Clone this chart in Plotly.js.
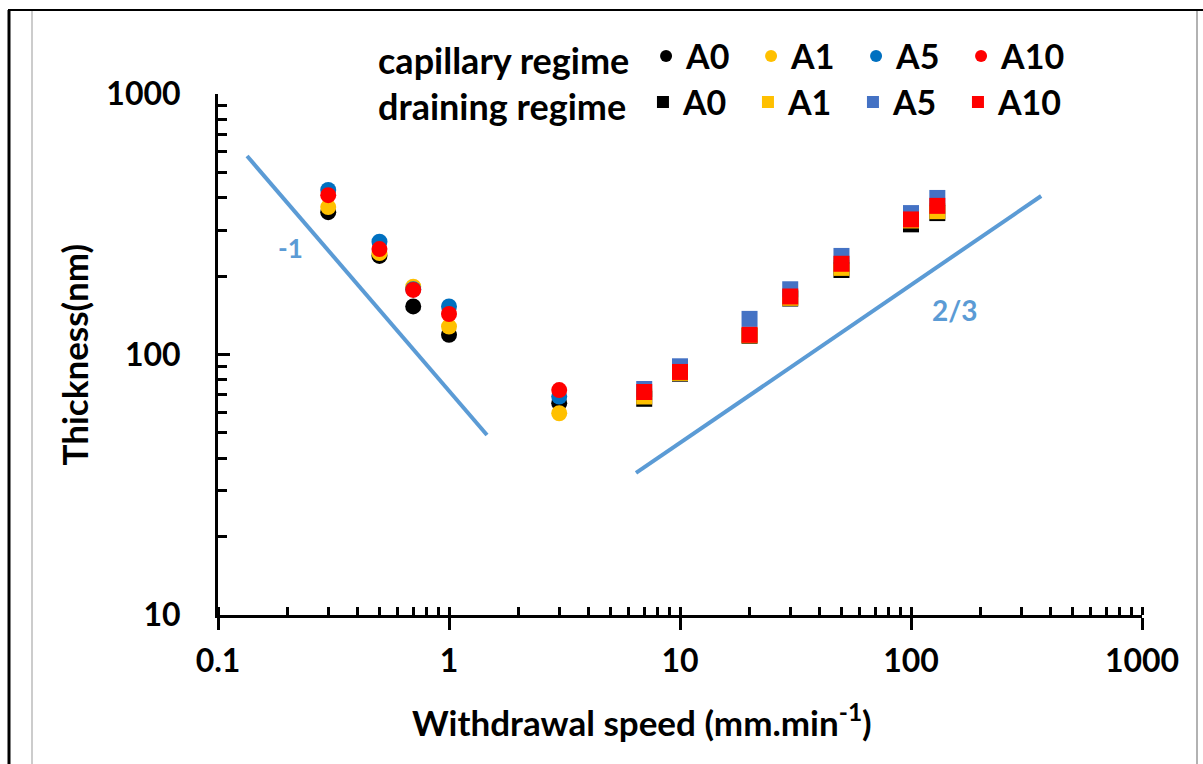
<!DOCTYPE html>
<html>
<head>
<meta charset="utf-8">
<script src="https://cdn.plot.ly/plotly-3.0.1.min.js"></script>
<style>html,body{margin:0;padding:0;background:#fff;}#chart{width:1203px;height:764px;}</style>
</head>
<body>
<div id="chart"></div>
<script>
// Capillary regime (circles)
const capSpeed = [0.3, 0.5, 0.7, 1, 3];
const capA0  = [352, 239, 153, 119, 65];
const capA1  = [368, 245, 182, 128, 59.5];
const capA5  = [428, 271, 178, 153, 69];
const capA10 = [409, 254, 177, 143, 73];

// Draining regime (squares)
const drainSpeed = [7, 10, 20, 30, 50, 100, 130];
const drainA0  = [67.6, 84.4, 118, 164, 211, 316, 349];
const drainA1  = [69, 85, 118.5, 165, 215, 327, 355];
const drainA5  = [73.7, 90.1, 137, 178, 239, 349, 399];
const drainA10 = [71.8, 85.7, 119, 167, 223, 330, 372];

// Slope guide lines
const slopeNegX = [0.1336, 1.46];
const slopeNegY = [578, 49.1];
const slopePosX = [6.45, 366];
const slopePosY = [35.1, 406];

const seriesNames = ['A0', 'A1', 'A5', 'A10'];
const capColors = ['#000000', '#FFC000', '#0070C0', '#FF0000'];
const drainColors = ['#000000', '#FFC000', '#4472C4', '#FF0000'];

const FONT = 'Lato, "Open Sans", sans-serif';
const lineColor = '#5B9BD5';

const traces = [];
traces.push({x: slopeNegX, y: slopeNegY, mode: 'lines', line: {color: lineColor, width: 4}, showlegend: false, hoverinfo: 'skip'});
traces.push({x: slopePosX, y: slopePosY, mode: 'lines', line: {color: lineColor, width: 4}, showlegend: false, hoverinfo: 'skip'});

const capVals = [capA0, capA1, capA5, capA10];
const drainVals = [drainA0, drainA1, drainA5, drainA10];
capVals.forEach((v, i) => traces.push({
  x: capSpeed, y: v, mode: 'markers', name: seriesNames[i], legend: 'legend',
  marker: {symbol: 'circle', size: 16, color: capColors[i]}
}));
drainVals.forEach((v, i) => traces.push({
  x: drainSpeed, y: v, mode: 'markers', name: seriesNames[i], legend: 'legend2',
  marker: {symbol: 'square', size: 16, color: drainColors[i]}
}));
// overlay axis for the upward part of the major x ticks
traces.push({x: [], y: [], xaxis: 'x2', yaxis: 'y', showlegend: false, mode: 'markers'});

const legendCommon = {
  orientation: 'h', xanchor: 'left', yanchor: 'middle',
  bgcolor: 'rgba(0,0,0,0)', borderwidth: 0,
  font: {family: FONT, size: 34, color: '#000', weight: 'bold'},
  itemsizing: 'constant', entrywidth: 60, entrywidthmode: 'pixels',
  traceorder: 'normal', tracegroupgap: 0, itemclick: false
};

const layout = {
  width: 1203, height: 764,
  margin: {l: 218, r: 61, t: 94, b: 149},
  paper_bgcolor: '#ffffff', plot_bgcolor: '#ffffff',
  font: {family: FONT, size: 28, color: '#000', weight: 'bold'},
  xaxis: {
    type: 'log', range: [-1, 3], tickvals: [0.1, 1, 10, 100, 1000],
    ticktext: ['0.1', '1', '10', '100', '1000'],
    showline: true, linecolor: '#000', linewidth: 3, mirror: false,
    ticks: 'outside', ticklen: 12, tickwidth: 3, tickcolor: '#000',
    ticklabelstandoff: 4,
    showgrid: false, zeroline: false,
    tickfont: {family: FONT, size: 32, color: '#000', weight: 'bold'},
    minor: {ticks: 'inside', ticklen: 8, tickwidth: 3, tickcolor: '#000', dtick: 'D1', showgrid: false}
  },
  xaxis2: {
    type: 'log', range: [-1, 3], overlaying: 'x', anchor: 'y', side: 'bottom',
    tickvals: [0.1, 1, 10, 100, 1000], showticklabels: false,
    ticks: 'inside', ticklen: 8, tickwidth: 3, tickcolor: '#000',
    showline: false, showgrid: false, zeroline: false
  },
  yaxis: {
    type: 'log', range: [1, 3], tickvals: [10, 100, 1000], ticktext: ['10', '100', '1000'],
    showline: true, linecolor: '#000', linewidth: 3,
    ticks: 'inside', ticklen: 12, tickwidth: 3, tickcolor: '#000',
    ticklabelstandoff: 28,
    showgrid: false, zeroline: false,
    tickfont: {family: FONT, size: 32, color: '#000', weight: 'bold'},
    minor: {ticks: 'inside', ticklen: 9, tickwidth: 3, tickcolor: '#000', dtick: 'D1', showgrid: false}
  },
  legend: Object.assign({}, legendCommon, {
    x: 0.171, y: 1.072,
    title: {text: 'capillary regime ', side: 'left', font: {family: FONT, size: 36, color: '#000', weight: 'bold'}}
  }),
  legend2: Object.assign({}, legendCommon, {
    x: 0.171, y: 0.984,
    title: {text: 'draining regime ', side: 'left', font: {family: FONT, size: 36, color: '#000', weight: 'bold'}}
  }),
  annotations: [
    {xref: 'paper', yref: 'paper', x: (642 - 218) / 924, y: (615 - 720) / 521, xanchor: 'center', yanchor: 'middle',
     text: 'Withdrawal speed (mm.min<sup>-1</sup>)', showarrow: false,
     font: {family: FONT, size: 35, color: '#000', weight: 'bold'}},
    {xref: 'paper', yref: 'paper', x: (73 - 218) / 924, y: 0.5, xanchor: 'center', yanchor: 'middle',
     text: 'Thickness(nm)', textangle: -90, showarrow: false,
     font: {family: FONT, size: 35, color: '#000', weight: 'bold'}},
    {xref: 'paper', yref: 'paper', x: (290 - 218) / 924, y: (615 - 248) / 521, xanchor: 'center', yanchor: 'middle',
     text: '-1', showarrow: false, font: {family: FONT, size: 26, color: lineColor, weight: 'bold'}},
    {xref: 'paper', yref: 'paper', x: (955 - 218) / 924, y: (615 - 310) / 521, xanchor: 'center', yanchor: 'middle',
     text: '2/3', showarrow: false, font: {family: FONT, size: 28, color: lineColor, weight: 'bold'}}
  ],
  shapes: [
    {type: 'line', xref: 'paper', yref: 'paper', x0: (8 - 218) / 924, x1: (1203 - 218) / 924,
     y0: (615 - 10) / 521, y1: (615 - 10) / 521, line: {color: '#000', width: 2}},
    {type: 'line', xref: 'paper', yref: 'paper', x0: (9 - 218) / 924, x1: (9 - 218) / 924,
     y0: (615 - 10) / 521, y1: (615 - 764) / 521, line: {color: '#000', width: 3}},
    {type: 'line', xref: 'paper', yref: 'paper', x0: (32 - 218) / 924, x1: (32 - 218) / 924,
     y0: (615 - 11) / 521, y1: (615 - 764) / 521, line: {color: '#999', width: 1}},
    {type: 'line', xref: 'paper', yref: 'paper', x0: (1197 - 218) / 924, x1: (1197 - 218) / 924,
     y0: (615 - 11) / 521, y1: (615 - 764) / 521, line: {color: '#999', width: 1.5}}
  ],
  showlegend: true
};

Plotly.newPlot('chart', traces, layout, {displayModeBar: false, staticPlot: true});
</script>
</body>
</html>
